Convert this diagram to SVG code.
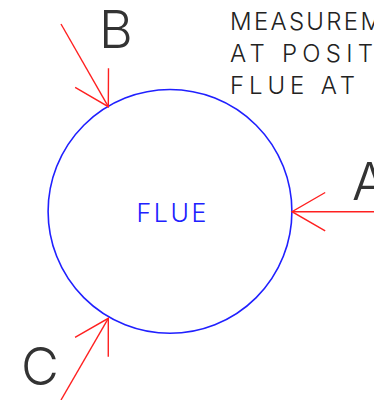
<svg xmlns="http://www.w3.org/2000/svg" width="374" height="400" viewBox="0 0 374 400">
  <style>
    .arrow { stroke: #ff2020; stroke-width: 1.4; fill: none; }
    .note { font-family: "Inter", "Liberation Sans", sans-serif; font-weight: 300; fill: #222; }
    .big { font-family: "Inter", "Liberation Sans", sans-serif; font-weight: 300; fill: #333; font-size: 52px; }
    .flue { font-family: "Inter", "Liberation Sans", sans-serif; font-weight: 300; fill: #2020ff; font-size: 25px; }
  </style>
  <defs>
    <marker id="head" markerUnits="userSpaceOnUse" markerWidth="80" markerHeight="80" refX="0" refY="0" viewBox="-40 -40 80 80" orient="auto" overflow="visible">
      <path d="M -33.2 -19.2 L 0 0 L -33.2 19.2" stroke="#ff2020" stroke-width="1.4" fill="none"/>
    </marker>
  </defs>
  <rect width="374" height="400" fill="#ffffff"/>

  <g id="flue">
    <circle cx="170" cy="211.4" r="121.9" fill="none" stroke="#2020ff" stroke-width="1.6"/>
    <text class="flue" x="136.5" y="221.5" textLength="70" lengthAdjust="spacing">FLUE</text>
  </g>

  <g id="label-A"><text class="big" x="352" y="200">A</text></g>
  <g id="label-B"><text class="big" x="99" y="48">B</text></g>
  <g id="label-C"><text class="big" x="21" y="385">C</text></g>

  <g id="note">
    <text class="note" x="230" y="29.5" font-size="24" textLength="152" lengthAdjust="spacing">MEASUREM</text>
    <text class="note" x="230" y="61.5" font-size="24" textLength="143" lengthAdjust="spacing">AT POSIT</text>
    <text class="note" x="230" y="93.5" font-size="24" textLength="125" lengthAdjust="spacing">FLUE AT</text>
  </g>

  <g id="connectors">
    <line class="arrow" x1="374" y1="211.7" x2="292" y2="211.7" marker-end="url(#head)"/>
    <line class="arrow" x1="61" y1="24" x2="108.3" y2="106.7" marker-end="url(#head)"/>
    <line class="arrow" x1="61" y1="400" x2="108.3" y2="318.3" marker-end="url(#head)"/>
  </g>
</svg>
